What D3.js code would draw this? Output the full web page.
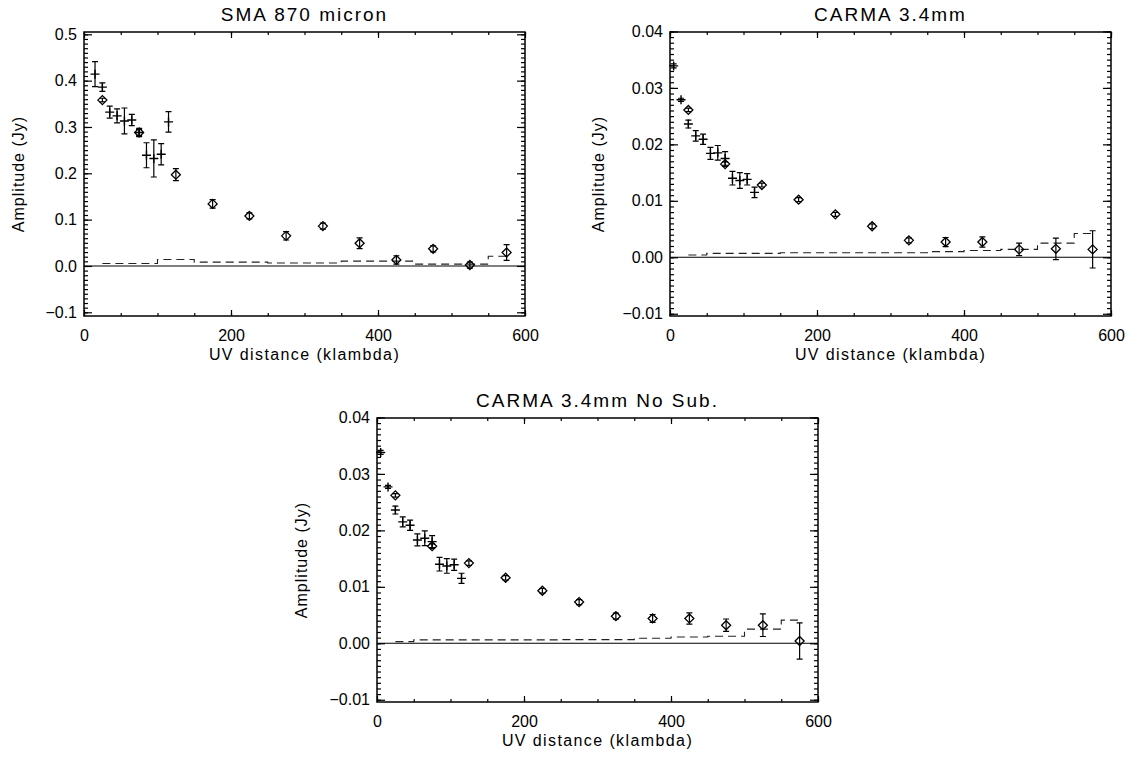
<!DOCTYPE html>
<html>
<head>
<meta charset="utf-8">
<script src="https://cdn.jsdelivr.net/npm/d3@7"></script>
<style>
body { margin: 0; background: #fff; }
text { font-family: "Liberation Sans", Arial, sans-serif; fill: #000; }
</style>
</head>
<body>
<script>
// uv bins (klambda): fine 10-klambda bins (crosses) and wide 50-klambda bins (diamonds)
var binX = [25, 75, 125, 175, 225, 275, 325, 375, 425, 475, 525, 575];
var smaFineX = [15, 25, 35, 45, 55, 65, 75, 85, 95, 105, 115];
var carmaFineX = [5, 15, 25, 35, 45, 55, 65, 75, 85, 95, 105, 115];

// SMA 870 micron
var smaFineY = [0.414, 0.386, 0.332, 0.324, 0.313, 0.315, 0.288, 0.239, 0.232, 0.241, 0.311];
var smaFineErr = [0.027, 0.009, 0.013, 0.015, 0.028, 0.012, 0.009, 0.027, 0.040, 0.023, 0.022];
var smaBinY = [0.358, 0.288, 0.197, 0.134, 0.108, 0.065, 0.086, 0.049, 0.013, 0.037, 0.002, 0.029];
var smaBinErr = [0.004, 0.0065, 0.013, 0.009, 0.0065, 0.009, 0.0065, 0.0115, 0.009, 0.0065, 0.0065, 0.017];
var smaModel = [0.0054, 0.0054, 0.014, 0.0082, 0.0082, 0.0065, 0.0065, 0.0104, 0.0104, 0.004, 0.004, 0.021];

// CARMA 3.4mm
var carmaFineY = [0.0339, 0.0279, 0.0236, 0.0215, 0.0209, 0.0184, 0.0185, 0.0175, 0.0140, 0.0136, 0.0138, 0.0115];
var carmaFineErr = [0.00035, 0.00027, 0.0007, 0.00094, 0.0009, 0.00106, 0.0013, 0.0012, 0.0012, 0.0014, 0.001, 0.00094];
var carmaBinY = [0.0261, 0.0165, 0.0128, 0.0102, 0.0076, 0.0055, 0.0030, 0.0027, 0.0027, 0.0014, 0.0015, 0.0014];
var carmaBinErr = [0.0003, 0.0004, 0.00035, 0.00035, 0.00035, 0.0004, 0.00044, 0.0008, 0.0009, 0.0011, 0.0019, 0.0033];
var carmaModel = [0.0004, 0.0007, 0.0007, 0.0008, 0.0008, 0.0008, 0.0008, 0.001, 0.0012, 0.0014, 0.0025, 0.0042];

// CARMA 3.4mm, no subtraction
var nosubFineY = [0.0338, 0.0277, 0.0236, 0.0215, 0.0209, 0.0183, 0.0186, 0.0180, 0.0140, 0.0137, 0.0139, 0.0115];
var nosubFineErr = [0.00035, 0.00027, 0.0007, 0.0009, 0.0009, 0.00106, 0.0013, 0.00106, 0.0012, 0.0013, 0.001, 0.0009];
var nosubBinY = [0.0262, 0.0172, 0.0142, 0.0116, 0.0093, 0.0073, 0.0048, 0.0044, 0.0044, 0.0032, 0.0032, 0.0004];
var nosubBinErr = [0.0003, 0.0004, 0.0004, 0.0004, 0.0004, 0.00044, 0.00053, 0.0007, 0.001, 0.0011, 0.002, 0.0032];
var nosubModel = [0.0003, 0.0006, 0.0006, 0.0006, 0.0006, 0.00065, 0.00065, 0.00088, 0.0011, 0.00124, 0.0025, 0.0041];

// axis ticks
var xMajor = [0, 200, 400, 600];
var xMinor = d3.range(0, 601, 50);
var smaYMajor = [-0.1, 0.0, 0.1, 0.2, 0.3, 0.4, 0.5];
var smaYMinor = d3.range(-10, 51).map(function(i) { return i / 100; });
var carmaYMajor = [-0.01, 0.00, 0.01, 0.02, 0.03, 0.04];
var carmaYMinor = d3.range(-10, 41).map(function(i) { return i / 1000; });

var width = 1132;
var height = 758;
var pw = 441, ph = 284;

var svg = d3.select("body")
    .append("svg")
    .attr("width", width)
    .attr("height", height);

var panels = [
    { title: "SMA 870 micron", left: 84, top: 32, ydom: [-0.108, 0.505], fmt: ".1f",
      yMajor: smaYMajor, yMinor: smaYMinor, ytitleX: -66,
      fineX: smaFineX, fineY: smaFineY, fineErr: smaFineErr,
      binY: smaBinY, binErr: smaBinErr, model: smaModel },
    { title: "CARMA 3.4mm", left: 670, top: 32, ydom: [-0.0104, 0.0399], fmt: ".2f",
      yMajor: carmaYMajor, yMinor: carmaYMinor, ytitleX: -72,
      fineX: carmaFineX, fineY: carmaFineY, fineErr: carmaFineErr,
      binY: carmaBinY, binErr: carmaBinErr, model: carmaModel },
    { title: "CARMA 3.4mm No Sub.", left: 377, top: 418, ydom: [-0.0104, 0.0399], fmt: ".2f",
      yMajor: carmaYMajor, yMinor: carmaYMinor, ytitleX: -76,
      fineX: carmaFineX, fineY: nosubFineY, fineErr: nosubFineErr,
      binY: nosubBinY, binErr: nosubBinErr, model: nosubModel }
];

panels.forEach(drawPanel);

function drawPanel(p) {
    var g = svg.append("g")
        .attr("transform", "translate(" + p.left + "," + p.top + ")");

    var x = d3.scaleLinear().domain([0, 600]).range([0, pw]);
    var y = d3.scaleLinear().domain(p.ydom).range([ph, 0]);

    // minor ticks, all four sides
    g.append("g").attr("class", "ax").attr("transform", "translate(0," + ph + ")")
        .call(d3.axisBottom(x).tickValues(xMinor).tickSize(-3).tickSizeOuter(0).tickFormat(""));
    g.append("g").attr("class", "ax")
        .call(d3.axisTop(x).tickValues(xMinor).tickSize(-3).tickSizeOuter(0).tickFormat(""));
    g.append("g").attr("class", "ax")
        .call(d3.axisLeft(y).tickValues(p.yMinor).tickSize(-4).tickSizeOuter(0).tickFormat(""));
    g.append("g").attr("class", "ax").attr("transform", "translate(" + pw + ",0)")
        .call(d3.axisRight(y).tickValues(p.yMinor).tickSize(-4).tickSizeOuter(0).tickFormat(""));

    // major ticks
    g.append("g").attr("class", "ax lab").attr("transform", "translate(0," + ph + ")")
        .call(d3.axisBottom(x).tickValues(xMajor).tickSize(-6).tickSizeOuter(0).tickPadding(14)
            .tickFormat(d3.format("d")));
    g.append("g").attr("class", "ax")
        .call(d3.axisTop(x).tickValues(xMajor).tickSize(-6).tickSizeOuter(0).tickFormat(""));
    g.append("g").attr("class", "ax lab")
        .call(d3.axisLeft(y).tickValues(p.yMajor).tickSize(-8).tickSizeOuter(0).tickPadding(7)
            .tickFormat(d3.format(p.fmt)));
    g.append("g").attr("class", "ax").attr("transform", "translate(" + pw + ",0)")
        .call(d3.axisRight(y).tickValues(p.yMajor).tickSize(-8).tickSizeOuter(0).tickFormat(""));

    g.selectAll(".ax .domain").remove();
    g.selectAll(".ax line").attr("stroke", "#000").attr("stroke-width", 1.2);
    g.selectAll(".lab text").style("font-size", "16px")
        .style("font-family", "'Liberation Sans', Arial, sans-serif").attr("fill", "#000");

    // frame
    g.append("rect")
        .attr("width", pw).attr("height", ph)
        .attr("fill", "none").attr("stroke", "#000").attr("stroke-width", 1.5);

    // zero line
    g.append("line")
        .attr("x1", x(0)).attr("x2", x(600))
        .attr("y1", y(0)).attr("y2", y(0))
        .attr("stroke", "#000").attr("stroke-width", 1.1);

    // model, drawn as a histogram
    var model = binX.map(function(d, i) { return [d, p.model[i]]; });
    g.append("path")
        .datum(model)
        .attr("d", d3.line()
            .x(function(d) { return x(d[0]); })
            .y(function(d) { return y(d[1]); })
            .curve(d3.curveStep))
        .attr("fill", "none")
        .attr("stroke", "#222")
        .attr("stroke-width", 1.1)
        .attr("stroke-dasharray", "8,5");

    // error bars
    var fine = p.fineX.map(function(d, i) { return { x: d, y: p.fineY[i], e: p.fineErr[i] }; });
    var wide = binX.map(function(d, i) { return { x: d, y: p.binY[i], e: p.binErr[i] }; });
    var all = fine.concat(wide);

    g.selectAll(".eb")
        .data(all)
        .enter()
        .append("path")
        .attr("class", "eb")
        .attr("d", function(d) {
            var cx = x(d.x), y1 = y(d.y + d.e), y2 = y(d.y - d.e);
            return "M" + (cx - 3) + "," + y1 + "H" + (cx + 3) +
                "M" + cx + "," + y1 + "V" + y2 +
                "M" + (cx - 3) + "," + y2 + "H" + (cx + 3);
        })
        .attr("fill", "none")
        .attr("stroke", "#000")
        .attr("stroke-width", 1.2);

    // crosses
    g.selectAll(".cross")
        .data(fine)
        .enter()
        .append("path")
        .attr("class", "cross")
        .attr("d", function(d) {
            var cx = x(d.x), cy = y(d.y);
            return "M" + (cx - 4.5) + "," + cy + "H" + (cx + 4.5) +
                "M" + cx + "," + (cy - 4.5) + "V" + (cy + 4.5);
        })
        .attr("stroke", "#000")
        .attr("stroke-width", 1.4);

    // diamonds
    g.selectAll(".diamond")
        .data(wide)
        .enter()
        .append("path")
        .attr("class", "diamond")
        .attr("d", function(d) {
            var cx = x(d.x), cy = y(d.y), r = 4.5;
            return "M" + (cx - r) + "," + cy + "L" + cx + "," + (cy - r) +
                "L" + (cx + r) + "," + cy + "L" + cx + "," + (cy + r) + "Z";
        })
        .attr("fill", "none")
        .attr("stroke", "#000")
        .attr("stroke-width", 1.3);

    // titles
    g.append("text")
        .attr("x", pw / 2).attr("y", -11)
        .attr("text-anchor", "middle")
        .style("font-size", "19px")
        .style("letter-spacing", "2px")
        .text(p.title);

    g.append("text")
        .attr("x", pw / 2).attr("y", ph + 44)
        .attr("text-anchor", "middle")
        .style("font-size", "16px")
        .style("letter-spacing", "1.4px")
        .text("UV distance (klambda)");

    g.append("text")
        .attr("transform", "translate(" + p.ytitleX + "," + (ph / 2) + ") rotate(-90)")
        .attr("text-anchor", "middle")
        .attr("dy", "0.35em")
        .style("font-size", "16px")
        .style("letter-spacing", "1px")
        .text("Amplitude (Jy)");
}
</script>
</body>
</html>
